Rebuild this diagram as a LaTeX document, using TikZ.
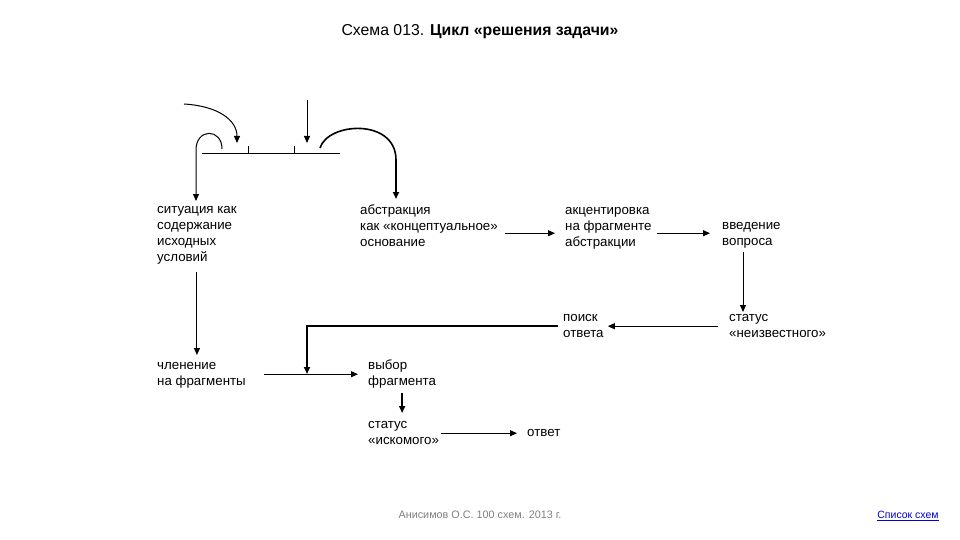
\documentclass[tikz,border=0pt]{standalone}
\usepackage{fontspec}
\setmainfont{Liberation Sans}
\usetikzlibrary{arrows.meta,calc}

\begin{document}
\begin{tikzpicture}[x=1pt,y=-1pt,
  txt/.style={anchor=north west,align=left,inner sep=0pt,font=\fontsize{13.3}{16}\selectfont},
  arr/.style={line width=1pt,-{Triangle[length=7pt,width=6pt]}},
  arrb/.style={arr,line width=1.6pt}]
  \path[fill=white] (0,0) rectangle (960,540);
  \node[font=\fontsize{15.8}{18}\selectfont] (title) at (480,32) {Схема 013. \textbf{Цикл «решения задачи»}};

  % top part
  \draw[line width=1pt] (202,154) coordinate (bar-l) -- (340,154) coordinate (bar-r);
  \foreach \x in {248,294} \draw[line width=1pt] (\x,146) -- (\x,154);
  \coordinate (in-a) at (184,104);
  \coordinate (in-b) at (237,143);
  \coordinate (in-c) at (307,100);
  \coordinate (in-d) at (307,143);
  \coordinate (loop-a) at (222,149);
  \coordinate (loop-b) at (196,150);
  \coordinate (arc-a) at (320,148);
  \coordinate (arc-b) at (396,160);

  \node[txt] (sit) at (157,202) {\strut ситуация как\\содержание\\исходных\\условий\strut};
  \node[txt] (abstr) at (360,203) {\strut абстракция\\как «концептуальное»\\основание\strut};
  \node[txt] (akc) at (565,203) {\strut акцентировка\\на фрагменте\\абстракции\strut};
  \node[txt] (vved) at (722,218) {\strut введение\\вопроса\strut};
  \node[txt] (neizv) at (729,310) {\strut статус\\«неизвестного»\strut};
  \node[txt] (poisk) at (563,310) {\strut поиск\\ответа\strut};
  \node[txt] (chlen) at (157,358) {\strut членение\\на фрагменты\strut};
  \node[txt] (vybor) at (368,358) {\strut выбор\\фрагмента\strut};
  \node[txt] (iskom) at (368,417) {\strut статус\\«искомого»\strut};
  \node[txt] (otvet) at (527,425) {\strut ответ\strut};
  \coordinate (join) at (307,374);

  \draw[arr] (in-a) .. controls (218,106) and (237,120) .. (in-b);
  \draw[arr] (in-c) -- (in-d);
  \draw[arr,shorten >=1pt] (loop-a) .. controls (222,128) and (196,128) .. (loop-b) -- (loop-b |- sit.north);
  \draw[arrb,shorten >=4pt] (arc-a) .. controls (328,122) and (396,118) .. (arc-b) -- (arc-b |- abstr.north);

  \draw[arr] ([xshift=7pt,yshift=-6pt]abstr.east) -- ([xshift=-10pt,yshift=-6pt]akc.west);
  \draw[arr] ([xshift=5pt,yshift=-6pt]akc.east) -- ([xshift=-12pt,yshift=1pt]vved.west);
  \draw[arr] ([xshift=21pt,yshift=-2pt]vved.south west) -- ([xshift=14pt,yshift=-2pt]neizv.north west);
  \draw[arr] ([xshift=-11pt]neizv.west) -- ([xshift=4pt]poisk.east);
  \draw[arrb] ([xshift=-5pt]poisk.west) -| (join);
  \draw[arr,shorten <=6pt,shorten >=3pt] (sit.south) -- (sit.south |- chlen.north);
  \draw[arr] ([xshift=18pt]chlen.east) -- ([xshift=-10pt]vybor.west);
  \draw[arrb,shorten <=3pt,shorten >=4pt] (vybor.south) -- (vybor.south |- iskom.north);
  \draw[arr,shorten <=2pt,shorten >=10pt] (iskom.east) -- (otvet.west);

  % footer
  \node[font=\fontsize{10.8}{12}\selectfont,text=gray] (author) at (480,515) {Анисимов О.С. 100 схем. 2013 г.};
  \node[font=\fontsize{10.5}{12}\selectfont,text=blue!85!black] (list) at (908,516) {\underline{Список схем}};
\end{tikzpicture}
\end{document}
